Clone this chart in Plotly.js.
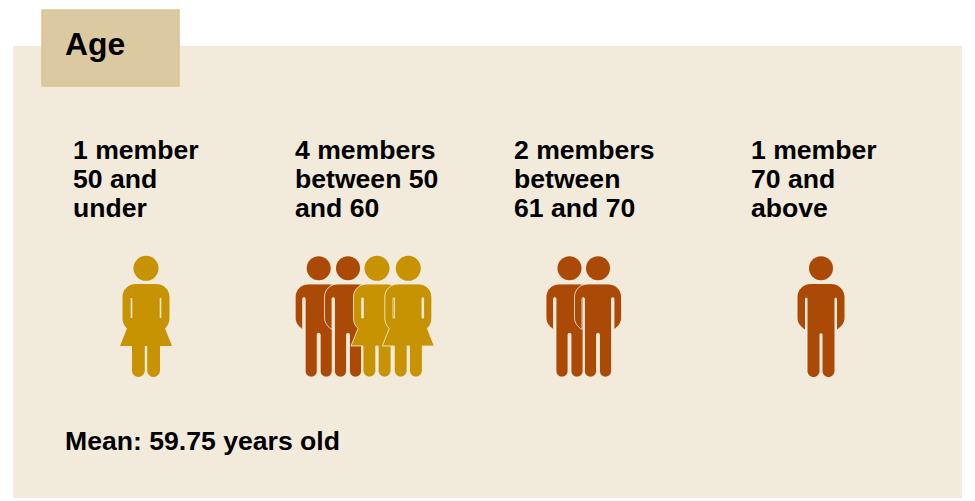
<!DOCTYPE html>
<html>
<head>
<meta charset="utf-8">
<script src="https://cdn.plot.ly/plotly-3.0.1.min.js"></script>
<style>html,body{margin:0;padding:0;background:#fff}#chart{width:975px;height:501px}</style>
</head>
<body>
<div id="chart"></div>
<script>
// Age make-up of the board, one figure per member.
const groupLabels = [
  ["1 member", "50 and", "under"],
  ["4 members", "between 50", "and 60"],
  ["2 members", "between", "61 and 70"],
  ["1 member", "70 and", "above"]
];
const groupMembers = [
  ["F"],
  ["M", "M", "F", "F"],
  ["M", "M"],
  ["M"]
];
const meanAge = 59.75;
const heading = "Age";

// Layout of the page, expressed in the pixel-sized axes below.
const labelX = [73, 295, 514, 751];
const memberX = [[146], [318.7, 348, 377, 408.3], [569.5, 598], [821]];

const MAN = "#ab4a06", WOMAN = "#c79303", PANEL = "#f2eadb", TAG = "#dbc9a2", TAG_EDGE = "#dcc48f", HALO = "#f7efe3";

// Half-round foot of a leg running between two x offsets.
function foot(X, a, b, top, bottom) {
  const k = 0.55 * (b - a) / 2, m = (a + b) / 2;
  return [
    `L${X(a)},${top}`,
    `C${X(a)},${top + k} ${X(m - k)},${bottom} ${X(m)},${bottom}`,
    `C${X(m + k)},${bottom} ${X(b)},${top + k} ${X(b)},${top}`
  ].join(" ");
}

function torsoTop(X) {
  return `M${X(-10)},284 L${X(10)},284 C${X(18)},284 ${X(23.5)},290 ${X(23.5)},297`;
}

function manPath(c) {
  const X = d => (c + d).toFixed(1);
  const rightLeg = foot(d => X(-d), -13.5, -1.5, 371, 377);
  const leftLeg = foot(d => X(-d), 1.5, 13.5, 371, 377);
  return [
    torsoTop(X),
    `L${X(23.5)},318`, `C${X(23.5)},323 ${X(20)},327 ${X(16)},329.5`, `L${X(16)},299`,
    `Q${X(16)},297.5 ${X(14.7)},297.5`, `Q${X(13.5)},297.5 ${X(13.5)},299`,
    rightLeg,
    `L${X(1.5)},334.5`, `Q${X(1.5)},333.3 ${X(0)},333.3`, `Q${X(-1.5)},333.3 ${X(-1.5)},334.5`,
    leftLeg,
    `L${X(-13.5)},299`, `Q${X(-13.5)},297.5 ${X(-14.7)},297.5`, `Q${X(-16)},297.5 ${X(-16)},299`,
    `L${X(-16)},329.5`, `C${X(-20)},327 ${X(-23.5)},323 ${X(-23.5)},318`, `L${X(-23.5)},297`,
    `C${X(-23.5)},290 ${X(-18)},284 ${X(-10)},284`, "Z"
  ].join(" ");
}

function womanPath(c) {
  const X = d => (c + d).toFixed(1);
  const rightLeg = foot(d => X(-d), -14, -1.2, 370.5, 377);
  const leftLeg = foot(d => X(-d), 1.2, 14, 370.5, 377);
  return [
    torsoTop(X),
    `L${X(23.5)},318`, `C${X(23.5)},323 ${X(21.5)},326 ${X(19)},328.5`, `L${X(26)},346`,
    `L${X(14)},346`,
    rightLeg,
    `L${X(1.2)},346`, `L${X(-1.2)},346`,
    leftLeg,
    `L${X(-14)},346`, `L${X(-26)},346`, `L${X(-19)},328.5`,
    `C${X(-21.5)},326 ${X(-23.5)},323 ${X(-23.5)},318`, `L${X(-23.5)},297`,
    `C${X(-23.5)},290 ${X(-18)},284 ${X(-10)},284`, "Z",
    // slits between the arms and the dress
    `M${X(-15.3)},298 L${X(-13.7)},298 L${X(-13.7)},318 L${X(-15.3)},318 Z`,
    `M${X(13.7)},298 L${X(15.3)},298 L${X(15.3)},318 L${X(13.7)},318 Z`
  ].join(" ");
}

const shapes = [
  { type: "rect", layer: "below", x0: 13, x1: 962, y0: 46, y1: 498, fillcolor: PANEL, line: { width: 0 } },
  { type: "rect", layer: "below", x0: 42, x1: 179, y0: 10, y1: 86, fillcolor: TAG, line: { color: TAG_EDGE, width: 1.5 } }
];

const heads = { M: { x: [], y: [] }, F: { x: [], y: [] } };
groupMembers.forEach((members, g) => {
  const crowded = members.length > 1;
  members.forEach((kind, m) => {
    const cx = memberX[g][m];
    shapes.push({
      type: "path",
      layer: "above",
      path: kind === "M" ? manPath(cx) : womanPath(cx),
      fillcolor: kind === "M" ? MAN : WOMAN,
      line: crowded ? { color: HALO, width: 0.8 } : { width: 0 }
    });
    heads[kind].x.push(cx);
    heads[kind].y.push(268.3);
  });
});

const annotations = [
  { x: 65, y: 44, text: `<b>${heading}</b>`, font: { size: 31.8 } },
  { x: 65, y: 441, text: `<b>Mean: ${meanAge} years old</b>`, font: { size: 26.6 } }
];
groupLabels.forEach((lines, g) => {
  lines.forEach((line, i) => {
    annotations.push({ x: labelX[g], y: 150 + i * 29, text: `<b>${line}</b>`, font: { size: 26.6 } });
  });
});
annotations.forEach(a => {
  Object.assign(a, { xref: "x", yref: "y", xanchor: "left", yanchor: "middle", showarrow: false, align: "left", borderpad: 0, borderwidth: 0 });
  a.font = Object.assign({ family: '"Liberation Sans", Arial, sans-serif', color: "#000" }, a.font);
});

const headTrace = (h, color, size) => ({
  type: "scatter", mode: "markers", x: h.x, y: h.y, hoverinfo: "skip",
  marker: { size, color, line: { width: 0 } }
});

Plotly.newPlot("chart", [headTrace(heads.M, MAN, 24), headTrace(heads.F, WOMAN, 25)], {
  width: 975, height: 501,
  margin: { l: 0, r: 0, t: 0, b: 0 },
  paper_bgcolor: "#fff", plot_bgcolor: "rgba(0,0,0,0)",
  showlegend: false,
  xaxis: { range: [0, 975], visible: false, fixedrange: true },
  yaxis: { range: [501, 0], visible: false, fixedrange: true },
  shapes, annotations
}, { displayModeBar: false, staticPlot: true });
</script>
</body>
</html>
